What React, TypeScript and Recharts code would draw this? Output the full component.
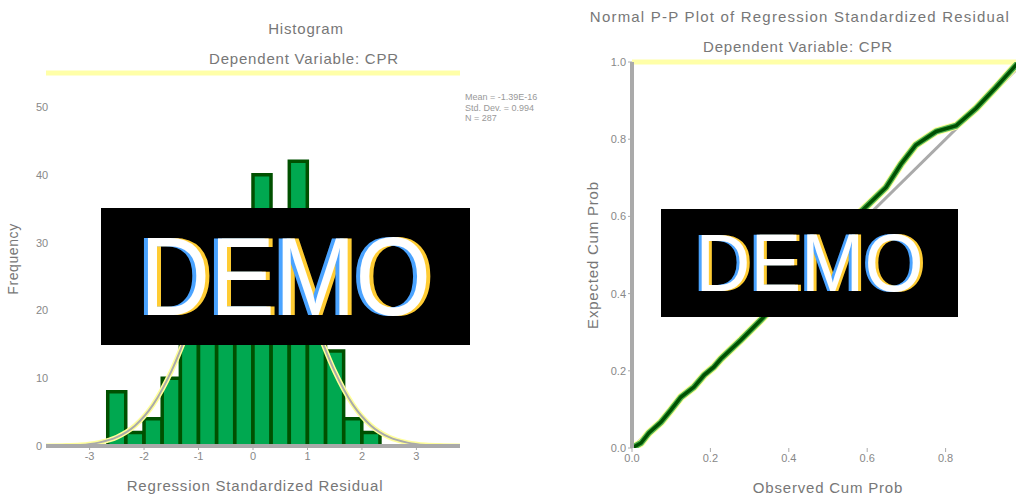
import React from 'react';
import { ComposedChart, LineChart, Bar, Line, XAxis, YAxis, ReferenceLine } from 'recharts';

// Histogram of regression standardized residuals (bins 1/3 wide)
const binCenters = [-2.5, -2.1667, -1.8333, -1.5, -1.1667, -0.8333, -0.5, -0.1667, 0.1667, 0.5, 0.8333, 1.1667, 1.5, 1.8333, 2.1667];
const frequencies = [8, 2, 4, 10, 18, 25, 30, 34, 40, 33, 42, 27, 14, 4, 2];
// Normal curve read at the same x positions (plus the tails)
const curveX = [-3.8333, -3.5, -3.1667, -2.8333, -2.5, -2.1667, -1.8333, -1.5, -1.1667, -0.8333, -0.5, -0.1667, 0.1667, 0.5, 0.8333, 1.1667, 1.5, 1.8333, 2.1667, 2.5, 2.8333, 3.1667, 3.5, 3.8333];
const curveY = [0, 0.05, 0.15, 0.5, 1.3, 3.0, 6.1, 11, 17.5, 24.8, 31, 34.5, 34.5, 31, 24.8, 17.5, 11, 6.1, 3.0, 1.3, 0.5, 0.15, 0.05, 0];
const histYTicks = [0, 10, 20, 30, 40, 50];
const histXTicks = [-3, -2, -1, 0, 1, 2, 3];
const legendLines = ['Mean = -1.39E-16', 'Std. Dev. = 0.994', 'N = 287'];

// Normal P-P plot
const ppObserved = [0, 0.023, 0.043, 0.074, 0.099, 0.125, 0.158, 0.184, 0.209, 0.227, 0.278, 0.329, 0.43, 0.53, 0.597, 0.648, 0.686, 0.724, 0.776, 0.827, 0.878, 0.929, 0.982, 1.0];
const ppExpected = [0, 0.013, 0.039, 0.067, 0.098, 0.132, 0.158, 0.189, 0.21, 0.231, 0.28, 0.332, 0.44, 0.56, 0.625, 0.675, 0.735, 0.785, 0.82, 0.835, 0.88, 0.935, 0.995, 1.0];
const diagX = [0, 1];
const diagY = [0, 1];
const ppXTicks = [0, 0.2, 0.4, 0.6, 0.8];
const ppYTicks = [0, 0.2, 0.4, 0.6, 0.8, 1.0];

const FONT = '"Liberation Sans", Arial, sans-serif';
const TEXT = '#777';

const histMap = new Map<number, any>();
binCenters.forEach((x, i) => histMap.set(x, { ...(histMap.get(x) || { x }), freq: frequencies[i] }));
curveX.forEach((x, i) => histMap.set(x, { ...(histMap.get(x) || { x }), curve: curveY[i] }));
const histData = Array.from(histMap.values()).sort((a, b) => a.x - b.x);

const ppData = [
  ...ppObserved.map((x, i) => ({ x, pp: ppExpected[i] })),
  ...diagX.map((x, i) => ({ x, diag: diagY[i] })),
].sort((a, b) => a.x - b.x);

const txt = (left: number, top: number, extra: any = {}): React.CSSProperties => ({
  position: 'absolute',
  left,
  top,
  transform: 'translate(-50%, -50%)',
  whiteSpace: 'nowrap',
  fontSize: 15,
  letterSpacing: 0.8,
  color: TEXT,
  fontFamily: FONT,
  lineHeight: 1,
  ...extra,
});

const HistYTick = (props: any) => {
  const { y, payload } = props;
  return (
    <text x={36} y={y} dy={4} textAnchor="start" fontSize={11} fill="#888" fontFamily={FONT}>
      {payload.value}
    </text>
  );
};

export default function App() {
  return (
    <div style={{ position: 'absolute', left: 0, top: 0, width: 1016, height: 499, overflow: 'hidden', background: '#fff', fontFamily: FONT }}>
      {/* Left: histogram */}
      <div style={{ position: 'absolute', left: 0, top: 0 }}>
        <ComposedChart width={540} height={499} data={histData} margin={{ top: 73, right: 80, bottom: 23, left: 6 }} barCategoryGap={0} barGap={0}>
          <XAxis
            type="number"
            dataKey="x"
            domain={[-3.8, 3.8]}
            ticks={histXTicks}
            allowDataOverflow
            height={30}
            axisLine={{ stroke: '#aaa', strokeWidth: 4 }}
            tickLine={{ stroke: '#aaa' }}
            tickSize={4}
            tick={{ fontSize: 11, fill: '#888', fontFamily: FONT }}
          />
          <YAxis
            type="number"
            domain={[0, 55]}
            ticks={histYTicks}
            allowDataOverflow
            width={40}
            axisLine={false}
            tickLine={false}
            tick={<HistYTick />}
          />
          <ReferenceLine y={55} stroke="#ffffa8" strokeWidth={5} />
          <Line dataKey="curve" type="monotone" stroke="#ffff99" strokeWidth={5} dot={false} connectNulls isAnimationActive={false} />
          <Line dataKey="curve" type="monotone" stroke="#aaaaaa" strokeWidth={2} dot={false} connectNulls isAnimationActive={false} />
          <Bar dataKey="freq" barSize={18} fill="#00a850" stroke="#005000" strokeWidth={3.5} isAnimationActive={false} />
        </ComposedChart>
      </div>

      {/* Right: P-P plot */}
      <div style={{ position: 'absolute', left: 540, top: 0 }}>
        <LineChart width={500} height={499} data={ppData} margin={{ top: 62, right: 16, bottom: 21, left: 52 }}>
          <XAxis
            type="number"
            dataKey="x"
            domain={[0, 1]}
            ticks={ppXTicks}
            allowDataOverflow
            height={30}
            axisLine={false}
            tickLine={{ stroke: '#aaa' }}
            tickSize={4}
            tickFormatter={(v: number) => v.toFixed(1)}
            tick={{ fontSize: 11, fill: '#888', fontFamily: FONT }}
          />
          <YAxis
            type="number"
            domain={[0, 1]}
            ticks={ppYTicks}
            allowDataOverflow
            width={40}
            axisLine={{ stroke: '#aaa', strokeWidth: 4 }}
            tickLine={{ stroke: '#aaa' }}
            tickSize={4}
            tickFormatter={(v: number) => v.toFixed(1)}
            tick={{ fontSize: 11, fill: '#888', fontFamily: FONT }}
          />
          <ReferenceLine y={1} stroke="#ffffa8" strokeWidth={5} />
          <Line dataKey="diag" type="linear" stroke="#aaaaaa" strokeWidth={3} dot={false} connectNulls isAnimationActive={false} />
          <Line dataKey="pp" type="linear" stroke="#ffff99" strokeWidth={8} dot={false} connectNulls isAnimationActive={false} />
          <Line dataKey="pp" type="linear" stroke="#4caf50" strokeWidth={6} dot={false} connectNulls isAnimationActive={false} />
          <Line dataKey="pp" type="linear" stroke="#005000" strokeWidth={3.5} dot={false} connectNulls isAnimationActive={false} />
        </LineChart>
      </div>

      {/* Left texts */}
      <div style={txt(306, 28)}>Histogram</div>
      <div style={txt(304, 58)}>Dependent Variable: CPR</div>
      <div style={txt(13, 259, { transform: 'translate(-50%, -50%) rotate(-90deg)', fontSize: 14, letterSpacing: 0.6 })}>Frequency</div>
      <div style={txt(255, 485)}>Regression Standardized Residual</div>
      <div style={{ position: 'absolute', left: 465, top: 92, fontSize: 9, lineHeight: '10.5px', color: '#999', fontFamily: FONT, whiteSpace: 'nowrap' }}>
        {legendLines.map((l) => (
          <div key={l}>{l}</div>
        ))}
      </div>

      {/* Right texts */}
      <div style={txt(800, 16, { letterSpacing: 1.2 })}>Normal P-P Plot of Regression Standardized Residual</div>
      <div style={txt(798, 46)}>Dependent Variable: CPR</div>
      <div style={txt(592, 255, { transform: 'translate(-50%, -50%) rotate(-90deg)' })}>Expected Cum Prob</div>
      <div style={txt(828, 487)}>Observed Cum Prob</div>

      {/* DEMO watermarks */}
      <div style={{ position: 'absolute', left: 101, top: 208, width: 369, height: 137, background: '#000', display: 'flex', alignItems: 'center', justifyContent: 'center' }}>
        <span style={{ color: '#fff', fontSize: 97, fontFamily: FONT, lineHeight: 1, display: 'inline-block', transform: 'scaleY(1.15)', textShadow: '-4px 0 #4aa3ff, 4px 0 #ffcc33' }}>DEMO</span>
      </div>
      <div style={{ position: 'absolute', left: 661, top: 209, width: 297, height: 108, background: '#000', display: 'flex', alignItems: 'center', justifyContent: 'center' }}>
        <span style={{ color: '#fff', fontSize: 76, fontFamily: FONT, lineHeight: 1, display: 'inline-block', transform: 'scaleY(1.08)', textShadow: '-3px 0 #4aa3ff, 3px 0 #ffcc33' }}>DEMO</span>
      </div>
    </div>
  );
}
